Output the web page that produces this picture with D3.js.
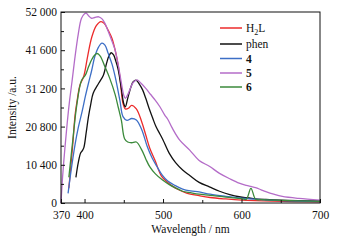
<!DOCTYPE html>
<html lang="en">
  <head>
    <meta charset="UTF-8" />
    <title>Emission spectra</title>
    <script src="https://d3js.org/d3.v7.min.js"></script>
    <style>
      body { margin: 0; background: #fff; }
      svg text { font-family: "Liberation Serif", "Times New Roman", serif; fill: #111; }
      .axis line { stroke: #111; }
    </style>
  </head>
  <body>
    <svg id="chart" width="338" height="241"></svg>
    <script>
      // wavelength (nm) / intensity (a.u.)
      const wlH2L = [380, 385, 388, 391, 394, 399, 404, 409, 415, 421, 425, 430, 435, 439, 442, 445, 449, 452, 456, 460, 466, 473, 478, 483, 490, 498, 505, 512, 520, 530, 546, 560, 580, 600, 640, 700];
      const intH2L = [4000, 16000, 24000, 28500, 32000, 34500, 40000, 45000, 48300, 49400, 48900, 47100, 44800, 41600, 38500, 34400, 27100, 25600, 25800, 26600, 25600, 22000, 18500, 15000, 11500, 7300, 5800, 4600, 3600, 2700, 2000, 1500, 1100, 800, 500, 300];

      const wlPhen = [389, 392, 395, 397, 399, 402, 405, 408, 411, 418, 424, 428, 431, 434, 437, 440, 443, 447, 450, 452, 455, 459, 462, 466, 470, 474, 478, 483, 487, 491, 496, 500, 508, 516, 525, 534, 546, 559, 572, 585, 597, 615, 631, 650, 673, 700];
      const intPhen = [7000, 11000, 13600, 14200, 15000, 19000, 23500, 27000, 29900, 32600, 34800, 38000, 40000, 40900, 40300, 38500, 36200, 31000, 27000, 26200, 28500, 31500, 33000, 33400, 32300, 30800, 28500, 25300, 23000, 20800, 18800, 17150, 13500, 11000, 9000, 7500, 5600, 4400, 3200, 2300, 1700, 1200, 950, 750, 630, 550];

      const wl4 = [379, 383, 388, 392, 397, 401, 405, 409, 413, 418, 422, 426, 430, 435, 439, 445, 449, 454, 460, 466, 473, 480, 486, 492, 499, 506, 515, 525, 535, 546, 560, 580, 600, 625, 650, 700];
      const int4 = [2600, 9000, 16000, 20500, 25000, 29000, 32600, 36000, 39800, 42500, 43500, 43000, 40800, 37800, 34400, 28000, 23500, 22500, 23000, 22600, 19900, 15300, 12300, 10000, 7600, 6000, 4800, 3800, 3300, 3000, 2400, 1800, 1300, 900, 650, 350];

      const wl5 = [370, 372, 375, 378, 381, 384, 388, 392, 396, 400, 402, 405, 409, 413, 418, 422, 426, 430, 435, 439, 443, 447, 450, 452, 455, 458, 462, 467, 472, 478, 484, 490, 496, 502, 506, 512, 521, 534, 546, 559, 572, 585, 597, 606, 612, 618, 625, 631, 641, 652, 673, 700];
      const int5 = [0, 7000, 15000, 22000, 28000, 33000, 40000, 46000, 50200, 51500, 51700, 51000, 50300, 50500, 50700, 50200, 48900, 46800, 44000, 41600, 37500, 32600, 29300, 28500, 29500, 31000, 32800, 33500, 32600, 31200, 29600, 28000, 26200, 24000, 22800, 20300, 17200, 14400, 11600, 10000, 8060, 6600, 5400, 4800, 4500, 4200, 3600, 3100, 2400, 1800, 1250, 800];

      const wl6 = [380, 385, 390, 396, 401, 405, 409, 413, 416, 420, 426, 432, 439, 443, 447, 451, 455, 460, 466, 473, 478, 483, 490, 499, 508, 517, 525, 535, 546, 560, 580, 600, 606, 612, 618, 625, 650, 700];
      const int6 = [7000, 17000, 26500, 33300, 34800, 37000, 39000, 40300, 40700, 40000, 37100, 34000, 29500, 26000, 22400, 17500, 16600, 16400, 16600, 14400, 12000, 9900, 8000, 6300, 5000, 4000, 3200, 2800, 2400, 2100, 1600, 1200, 1000, 4000, 1000, 900, 700, 450];

      const seriesNames = ["H2L", "phen", "4", "5", "6"];
      const seriesColors = ["#ec2b2b", "#111111", "#3d6fc6", "#b46cc8", "#3b8a3b"];
      const seriesWl = [wlH2L, wlPhen, wl4, wl5, wl6];
      const seriesInt = [intH2L, intPhen, int4, int5, int6];

      const xTicks = [370, 400, 500, 600, 700];
      const xMinor = [450, 550, 650];
      const yTicks = [0, 10400, 20800, 31200, 41600, 52000];
      const yMinor = [5200, 15600, 26000, 36400, 46800];

      const svg = d3.select("#chart");
      const margin = { top: 12, right: 18, bottom: 38, left: 61 };
      const width = +svg.attr("width") - margin.left - margin.right;
      const height = +svg.attr("height") - margin.top - margin.bottom;
      const g = svg.append("g").attr("transform", `translate(${margin.left},${margin.top})`);

      const x = d3.scaleLinear().domain([370, 700]).range([0, width]);
      const y = d3.scaleLinear().domain([0, 52000]).range([height, 0]);

      // curves
      const line = d3
        .line()
        .x((d) => x(d[0]))
        .y((d) => y(d[1]))
        .curve(d3.curveCatmullRom.alpha(0.5));

      seriesNames.forEach((name, i) => {
        const pts = seriesWl[i].map((w, j) => [w, seriesInt[i][j]]);
        g.append("path")
          .datum(pts)
          .attr("fill", "none")
          .attr("stroke", seriesColors[i])
          .attr("stroke-width", 1.3)
          .attr("d", line);
      });

      // axes, ticks pointing inward
      const fmt = (d) => d3.format(",")(d).replace(",", " ");
      const serif = '"Liberation Serif", "Times New Roman", serif';
      g.append("g").attr("class", "axis").attr("transform", `translate(0,${height})`)
        .call(d3.axisBottom(x).tickValues(xTicks).tickSizeInner(-4).tickSizeOuter(0).tickPadding(8));
      g.append("g").attr("class", "axis").attr("transform", `translate(0,${height})`)
        .call(d3.axisBottom(x).tickValues(xMinor).tickSizeInner(-3).tickSizeOuter(0).tickFormat(""));
      g.append("g").attr("class", "axis")
        .call(d3.axisLeft(y).tickValues(yTicks).tickFormat(fmt).tickSizeInner(-4).tickSizeOuter(0).tickPadding(4));
      g.append("g").attr("class", "axis")
        .call(d3.axisLeft(y).tickValues(yMinor).tickFormat("").tickSizeInner(-3).tickSizeOuter(0));

      svg.selectAll(".axis .domain").remove();
      svg.selectAll(".axis").attr("font-family", serif).attr("font-size", 11.5);

      // frame
      g.append("rect")
        .attr("width", width)
        .attr("height", height)
        .attr("fill", "none")
        .attr("stroke", "#111")
        .attr("stroke-width", 1);

      // axis titles
      svg.append("text")
        .attr("x", margin.left + width / 2)
        .attr("y", 233)
        .attr("text-anchor", "middle")
        .style("font-size", "11.5px")
        .text("Wavelength / nm");

      svg.append("text")
        .attr("transform", `translate(16,${margin.top + height / 2}) rotate(-90)`)
        .attr("text-anchor", "middle")
        .style("font-size", "11.5px")
        .text("Intensity /a.u.");

      // legend
      const legendY = [28, 44, 58.5, 73, 87];
      const legend = svg.append("g");
      seriesNames.forEach((name, i) => {
        legend.append("line")
          .attr("x1", 220).attr("x2", 242)
          .attr("y1", legendY[i]).attr("y2", legendY[i])
          .attr("stroke", seriesColors[i])
          .attr("stroke-width", 1.5);
        const t = legend.append("text")
          .attr("x", 246)
          .attr("y", legendY[i] + 4)
          .style("font-size", "11.5px");
        if (name === "H2L") {
          t.append("tspan").text("H");
          t.append("tspan").attr("dy", 3).style("font-size", "8px").text("2");
          t.append("tspan").attr("dy", -3).text("L");
        } else if (name === "phen") {
          t.text(name);
        } else {
          t.style("font-weight", "bold").text(name);
        }
      });
    </script>
  </body>
</html>
